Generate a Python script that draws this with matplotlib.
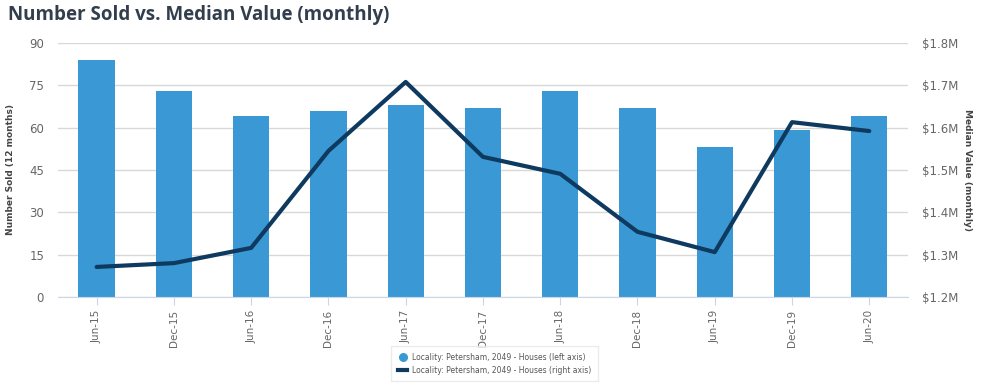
import matplotlib.pyplot as plt
from matplotlib.lines import Line2D
from matplotlib.ticker import FuncFormatter

# Datos
periodos = ["Jun-15", "Dec-15", "Jun-16", "Dec-16", "Jun-17", "Dec-17",
            "Jun-18", "Dec-18", "Jun-19", "Dec-19", "Jun-20"]
vendidos = [84, 73, 64, 66, 68, 67, 73, 67, 53, 59, 64]
mediana = [1.271, 1.280, 1.316, 1.545, 1.708, 1.531,
           1.491, 1.354, 1.306, 1.613, 1.592]

color_barra = "#3a99d5"
color_linea = "#0f3a5f"
gris = "#666666"

fig = plt.figure(figsize=(10.07, 3.86), dpi=100)
ax = fig.add_axes([0.0576, 0.2306, 0.844, 0.658])
ax2 = ax.twinx()

x = range(len(periodos))
ax.bar(x, vendidos, width=0.47, color=color_barra, zorder=2)
ax.set_xlim(-0.5, len(periodos) - 0.5)
ax.set_ylim(0, 90)
ax.set_yticks(range(0, 91, 15))
ax.grid(axis="y", color="#d8d8d8", linewidth=1, zorder=0)
ax.set_axisbelow(True)

ax2.plot(x, mediana, color=color_linea, linewidth=3, zorder=3,
         solid_capstyle="round")
ax2.set_ylim(1.2, 1.8)
ax2.set_yticks([1.2, 1.3, 1.4, 1.5, 1.6, 1.7, 1.8])
ax2.yaxis.set_major_formatter(FuncFormatter(lambda v, p: f"${v:.1f}M"))

for a in (ax, ax2):
    for s in a.spines.values():
        s.set_visible(False)
    a.tick_params(axis="y", length=0, labelsize=8.5, labelcolor=gris, pad=10)
ax.spines["bottom"].set_visible(True)
ax.spines["bottom"].set_color("#ccd6eb")

ax.set_xticks(list(x))
ax.set_xticklabels(periodos, rotation=90)
ax.tick_params(axis="x", length=6, color="#ccd6eb", labelsize=7.5,
               labelcolor=gris, pad=3)

ax.set_ylabel("Number Sold (12 months)", fontsize=6.5, fontweight="bold",
              color="#444444", labelpad=10)
ax2.set_ylabel("Median Value (monthly)", fontsize=6.5, fontweight="bold",
               color="#444444", rotation=270, labelpad=10)

fig.text(0.008, 0.962, "Number Sold vs. Median Value (monthly)",
         fontsize=13.5, fontweight="bold", color="#333e4d", va="center",
         family="Open Sans")

manejadores = [
    Line2D([], [], marker="o", linestyle="none", markersize=5.5,
           color=color_barra),
    Line2D([], [], color=color_linea, linewidth=3),
]
etiquetas = ["Locality: Petersham, 2049 - Houses (left axis)",
             "Locality: Petersham, 2049 - Houses (right axis)"]
fig.legend(manejadores, etiquetas, loc="center", bbox_to_anchor=(0.491, 0.058),
           fontsize=5.5, frameon=True, edgecolor="#e6e6e6", fancybox=False,
           labelcolor="#555555", handlelength=1.2, borderpad=0.9,
           labelspacing=0.5, handletextpad=0.6)

plt.savefig("out.png", dpi=100)
